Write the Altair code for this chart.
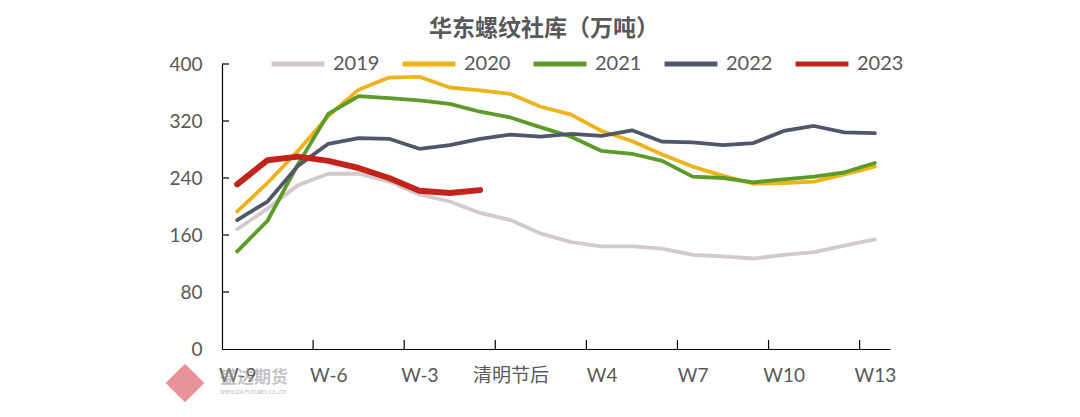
import altair as alt
import pandas as pd

categories = ["W-9", "W-8", "W-7", "W-6", "W-5", "W-4", "W-3", "W-2", "W-1", "清明节后",
              "W2", "W3", "W4", "W5", "W6", "W7", "W8", "W9", "W10", "W11", "W12", "W13"]
years = ["2019", "2020", "2021", "2022", "2023"]
s2019 = [168, 197, 230, 246, 246, 235, 217, 207, 191, 181, 162, 150, 144, 144, 141, 132, 130, 127, 132, 136, 145, 154]
s2020 = [193, 233, 278, 327, 364, 381, 382, 367, 363, 358, 340, 329, 306, 292, 273, 256, 243, 232, 233, 235, 245, 256]
s2021 = [137, 180, 259, 330, 355, 352, 349, 344, 333, 325, 311, 298, 278, 274, 264, 242, 240, 234, 238, 242, 248, 261]
s2022 = [181, 207, 257, 288, 296, 295, 281, 286, 295, 301, 298, 302, 299, 307, 291, 290, 286, 289, 306, 313, 304, 303]
s2023 = [231, 265, 270, 264, 254, 240, 222, 219, 223]
series = [s2019, s2020, s2021, s2022, s2023]
colors = ["#d3c9cc", "#eeb31a", "#5c9a2a", "#4f586b", "#c0241b"]
y_ticks = [0, 80, 160, 240, 320, 400]

rows = []
for yr, vals in zip(years, series):
    for i, v in enumerate(vals):
        rows.append({"year": yr, "i": i, "week": categories[i], "value": v})
df = pd.DataFrame(rows)

n = len(categories)
W, H = 668, 285
label_idx = list(range(0, n, 3))
label_expr = "[" + ",".join("'" + c + "'" for c in categories) + "][datum.value]"
FONT = "Lato, 'Noto Sans CJK SC'"
GRAY = "#595959"

xscale = alt.Scale(domain=[-0.5, n - 0.5], nice=False, zero=False)
yscale = alt.Scale(domain=[0, 400], nice=False)

lines = alt.Chart(df).mark_line(strokeCap="round", strokeJoin="round").encode(
    x=alt.X("i:Q", scale=xscale, title=None,
            axis=alt.Axis(values=label_idx, labelExpr=label_expr, ticks=False, grid=False,
                          domainColor="#000000", domainWidth=1.2, labelColor=GRAY,
                          labelFontSize=19, labelFont=FONT, labelPadding=17,
                          labelFlush=False, labelOverlap=False)),
    y=alt.Y("value:Q", scale=yscale, title=None,
            axis=alt.Axis(values=y_ticks, ticks=False, grid=False, domainColor="#000000",
                          domainWidth=1.2, labelColor=GRAY, labelFontSize=19, labelFont=FONT,
                          labelPadding=20)),
    color=alt.Color("year:N", scale=alt.Scale(domain=years, range=colors),
                    legend=alt.Legend(title=None, orient="none", legendX=47, legendY=-29,
                                      direction="horizontal", symbolType="stroke",
                                      symbolSize=2800, symbolStrokeWidth=5,
                                      labelFontSize=20, labelFont=FONT, labelColor=GRAY,
                                      labelOffset=6, columnPadding=12, padding=0)),
    strokeWidth=alt.condition(alt.datum.year == "2023", alt.value(6), alt.value(3.8)),
    order=alt.Order("i:Q"),
)

xt = pd.DataFrame({"t": [i - 0.5 for i in label_idx[1:]]})
x_tick_marks = alt.Chart(xt).mark_rule(color="#000000", strokeWidth=1.2).encode(
    x=alt.X("t:Q", scale=xscale, title=None), y=alt.value(H), y2=alt.value(H - 9))

yt = pd.DataFrame({"v": y_ticks[1:]})
y_tick_marks = alt.Chart(yt).mark_rule(color="#000000", strokeWidth=1.2).encode(
    y=alt.Y("v:Q", scale=yscale, title=None), x=alt.value(0), x2=alt.value(7))

wm = pd.DataFrame({"txt": ["盛达期货"], "en": ["SHENGDA FUTURES CO.,LTD"]})
logo = alt.Chart(wm).mark_point(shape="diamond", filled=True, size=1500, color="#e57f85",
                                opacity=0.85).encode(x=alt.value(-37), y=alt.value(319))
wm_text = alt.Chart(wm).mark_text(font="Noto Sans CJK SC", fontSize=17, fontWeight="bold",
                                  color="#9a9a9a", opacity=0.6, align="left").encode(
    x=alt.value(-2), y=alt.value(314), text="txt:N")
wm_en = alt.Chart(wm).mark_text(font="Lato", fontSize=5, color="#9a9a9a", opacity=0.7,
                                align="left").encode(
    x=alt.value(-2), y=alt.value(328), text="en:N")

chart = alt.layer(lines, x_tick_marks, y_tick_marks, logo, wm_text, wm_en).properties(
    width=W, height=H,
    autosize=alt.AutoSizeParams(type="none"),
    padding={"left": 214, "top": 56, "right": 170, "bottom": 60},
    title=alt.TitleParams("华东螺纹社库（万吨）", font="Noto Sans CJK SC", fontSize=23,
                          fontWeight="bold", color=GRAY, anchor="middle", dx=-12, offset=0, dy=6),
).configure_view(stroke=None)

chart.save("out.html", embed_options={"renderer": "svg", "actions": False})
